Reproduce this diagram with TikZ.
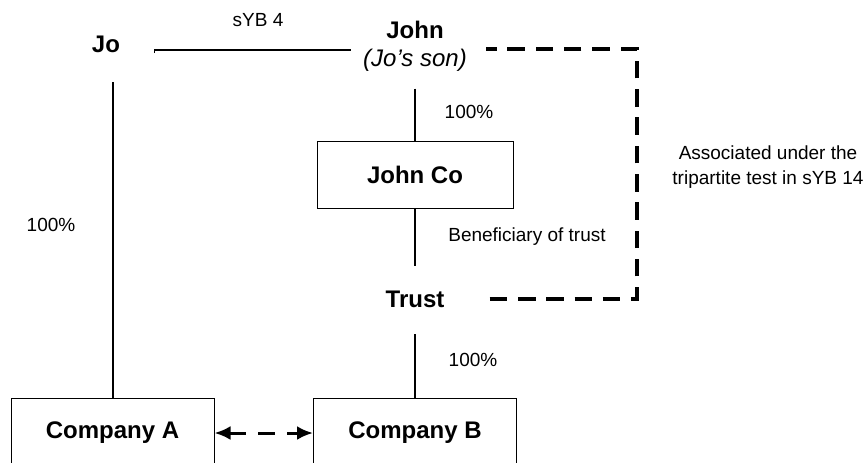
\documentclass[tikz,border=0pt]{standalone}
\usepackage{fontspec}
\setmainfont{Liberation Sans}
\usetikzlibrary{calc,arrows.meta}

\begin{document}
\begin{tikzpicture}[x=0.5pt,y=-0.5pt]
      \tikzstyle{person}=[inner sep=0pt,font=\fontsize{12}{14}\selectfont\bfseries]
      \tikzstyle{firm}=[draw,line width=0.5pt,minimum width=101.5pt,
			      minimum height=35pt,inner sep=0pt,
			      font=\fontsize{12}{14}\selectfont\bfseries]
      \tikzstyle{note}=[inner sep=0pt,font=\fontsize{9.5}{12.5}\selectfont]
      \tikzstyle{link}=[line width=1pt]
      \tikzstyle{assocline}=[line width=1.75pt,dash pattern=on 8.75pt off 5.4pt]
      \tikzstyle{twoway}=[line width=1.5pt,dash pattern=on 8.5pt off 6pt,
			      {Latex[length=8pt,width=7pt]}-{Latex[length=8pt,width=7pt]}]
      \useasboundingbox (0,0) rectangle (866,462);
      % people and entities
      \node (jo) [person] at (106,44) {Jo};
      \node (john) [person] at (415,30) {John};
      \node (son) [inner sep=0pt,font=\fontsize{12}{14}\selectfont\itshape]
	  at (415,60) {(Jo’s son)};
      \node (johnco) [firm,minimum width=98pt,minimum height=33.5pt]
	  at (415,174.5) {John Co};
      \node (trust) [person] at (415,299) {Trust};
      \node (compA) [firm] at (112.5,433) {Company A};
      \node (compB) [firm] at (415,433) {Company B};
      % labels
      \node (syb4) [note] at (258,20) {sYB 4};
      \node (pctjo) [note] at (51,225) {100\%};
      \node (pctjohn) [note] at (469,112) {100\%};
      \node (pcttrust) [note] at (473,360) {100\%};
      \node (benef) [note] at (527,237) {Beneficiary of trust};
      \node (assoc) [note,align=center] at (768,167)
	  {Associated under the\\tripartite test in sYB 14};
      % connectors
      \coordinate (tick) at ($(jo.east)+(34,6)$);
      \coordinate (bend) at (637,49);
      \draw[line width=0.85pt,shorten >=6pt] ($(tick)+(0,3)$) -- (tick) -- (tick -| son.west);
      \draw[link,shorten >=14.7pt] (compA.north) -- (compA.north |- jo.south);
      \draw[link,shorten <=8.5pt] (son.south) -- (johnco.north);
      \draw[link,shorten >=12.25pt] (johnco.south) -- (trust.north);
      \draw[link,shorten <=13.25pt] (trust.south) -- (compB.north);
      \draw[assocline,shorten <=22.5pt,shorten >=9.5pt]
	  (trust.east) -| (bend) -- (bend -| son.east);
      \draw[twoway] (compA.east) -- (compB.west);
\end{tikzpicture}
\end{document}
